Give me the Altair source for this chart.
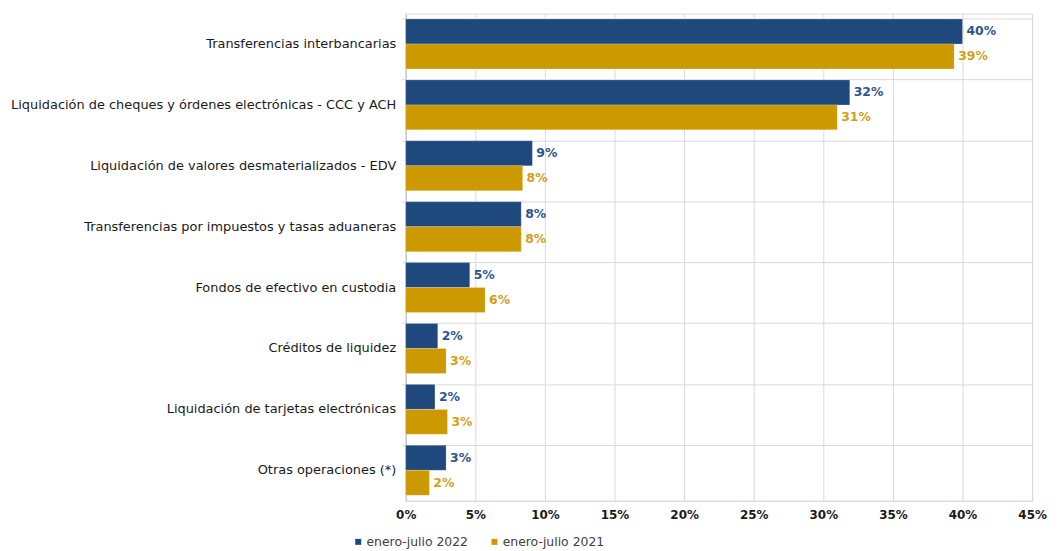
import altair as alt
import pandas as pd

categories = [
    "Transferencias interbancarias",
    "Liquidación de cheques y órdenes electrónicas - CCC y ACH",
    "Liquidación de valores desmaterializados - EDV",
    "Transferencias por impuestos y tasas aduaneras",
    "Fondos de efectivo en custodia",
    "Créditos de liquidez",
    "Liquidación de tarjetas electrónicas",
    "Otras operaciones (*)",
]
series = ["enero-julio  2022", "enero-julio  2021"]
values_2022 = [40.0, 31.9, 9.1, 8.3, 4.6, 2.3, 2.1, 2.9]
values_2021 = [39.4, 31.0, 8.4, 8.3, 5.7, 2.9, 3.0, 1.7]
labels_2022 = ["40%", "32%", "9%", "8%", "5%", "2%", "2%", "3%"]
labels_2021 = ["39%", "31%", "8%", "8%", "6%", "3%", "3%", "2%"]

rows = []
for c, v, l in zip(categories, values_2022, labels_2022):
    rows.append({"cat": c, "serie": series[0], "v": v / 100, "lab": l})
for c, v, l in zip(categories, values_2021, labels_2021):
    rows.append({"cat": c, "serie": series[1], "v": v / 100, "lab": l})
df = pd.DataFrame(rows)

FONT = "DejaVu Sans"
bar_colors = ["#1F497D", "#CC9900"]
label_colors = ["#2E5590", "#D4A017"]

y_enc = alt.Y(
    "cat:N",
    sort=categories,
    title=None,
    scale=alt.Scale(paddingInner=0.18, paddingOuter=0.09),
    axis=alt.Axis(
        bandPosition=0,
        grid=True,
        gridColor="#D9D9D9",
        tickColor="#D9D9D9",
        tickSize=4,
        domainColor="#BFBFBF",
        labelFont=FONT,
        labelFontSize=13,
        labelColor="#1a1a1a",
        labelPadding=6,
        labelLimit=420,
    ),
)
x_enc = alt.X(
    "v:Q",
    title=None,
    scale=alt.Scale(domain=[0, 0.45], nice=False),
    axis=alt.Axis(
        format=".0%",
        values=[i * 0.05 for i in range(10)],
        grid=True,
        gridColor="#D9D9D9",
        domainColor="#D9D9D9",
        ticks=False,
        labelFlush=False,
        labelFont=FONT,
        labelFontSize=12,
        labelFontWeight="bold",
        labelColor="#1a1a1a",
        labelPadding=9,
    ),
)
yoff = alt.YOffset("serie:N", sort=series, scale=alt.Scale(paddingInner=0, paddingOuter=0))

bars = alt.Chart(df).mark_bar(stroke="#ffffff", strokeWidth=0.5, strokeOpacity=0.4).encode(
    y=y_enc,
    x=x_enc,
    yOffset=yoff,
    color=alt.Color(
        "serie:N",
        sort=series,
        scale=alt.Scale(domain=series, range=bar_colors),
        legend=alt.Legend(
            title=None,
            orient="none",
            legendX=-54,
            legendY=525,
            direction="horizontal",
            symbolType="square",
            symbolSize=36,
            symbolStrokeWidth=0,
            labelFont=FONT,
            labelFontSize=12.5,
            labelColor="#404040",
            columnPadding=16,
            labelOffset=2,
        ),
    ),
)

text = alt.Chart(df).mark_text(
    align="left", baseline="middle", dx=4, font=FONT, fontSize=12.5, fontWeight="bold"
).encode(
    y=alt.Y("cat:N", sort=categories),
    x="v:Q",
    yOffset=yoff,
    text="lab:N",
    color=alt.Color("serie:N", sort=series, scale=alt.Scale(domain=series, range=label_colors), legend=None),
)

chart = (
    alt.layer(bars, text)
    .resolve_scale(color="independent")
    .properties(
        width=630,
        height=490,
        autosize=alt.AutoSizeParams(type="none"),
        padding={"left": 400, "top": 4, "right": 18, "bottom": 50},
    )
    .configure_view(stroke=None)
    .configure(background="#ffffff")
)

chart.save("out.html", embed_options={"renderer": "svg", "actions": False})
